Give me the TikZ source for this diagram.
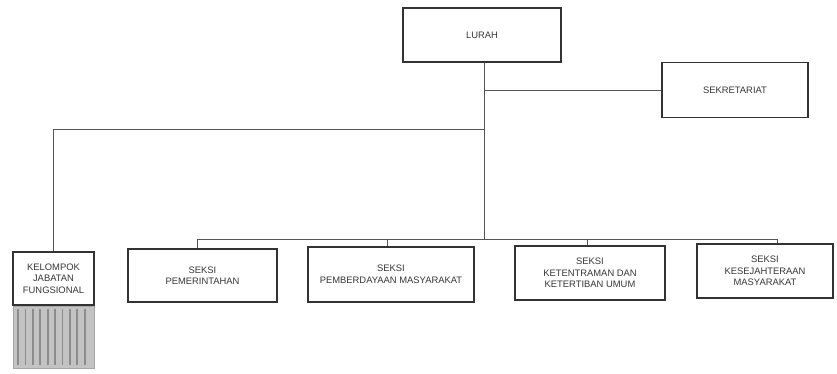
\documentclass[tikz,border=0pt]{standalone}
\usepackage{fontspec}
\setmainfont{Liberation Sans}
\usepackage{tikz}
\usetikzlibrary{positioning,calc}
\definecolor{inkcol}{RGB}{55,55,55}
\definecolor{linecol}{RGB}{85,85,85}
\definecolor{stripecol}{RGB}{195,195,195}
\tikzset{
  unit/.style={draw=black!80,line width=1.1pt,fill=white,inner sep=2pt,
               align=center,text=inkcol,font=\fontsize{9.4}{11.5}\selectfont},
  link/.style={draw=linecol,line width=.9pt},
}
\begin{document}
\begin{tikzpicture}[x=1pt,y=-1pt]
  \useasboundingbox (0,0) rectangle (837,374);
  \node[unit,minimum width=158pt,minimum height=54pt] (lurah) at (482,35) {LURAH};
  \node[unit,minimum width=146pt,minimum height=55pt] (sekr) at (735,90) {SEKRETARIAT};
  \node[unit,minimum width=81pt,minimum height=53pt] (kjf) at (53.5,278.5)
    {KELOMPOK\\JABATAN\\FUNGSIONAL};
  \node[draw=black!35,line width=.6pt,fill=stripecol,minimum width=81pt,
        minimum height=62pt,inner sep=0pt,below=0pt of kjf] (kjfbar) {};
  \foreach \k in {1,...,10}
    \draw[black!45,line width=1.8pt]
      ($(kjfbar.south west)+(7.4*\k-2,-3)$) -- ($(kjfbar.north west)+(7.4*\k-2,3)$);
  \node[unit,minimum width=149pt,minimum height=53pt] (pem) at (202.5,275.5)
    {SEKSI\\PEMERINTAHAN};
  \node[unit,minimum width=166pt,minimum height=55pt] (pmb) at (391,274.5)
    {SEKSI\\PEMBERDAYAAN MASYARAKAT};
  \node[unit,minimum width=150pt,minimum height=54pt] (ktr) at (590,273)
    {SEKSI\\KETENTRAMAN DAN\\KETERTIBAN UMUM};
  \node[unit,minimum width=136pt,minimum height=54pt] (ksj) at (765,271)
    {SEKSI\\KESEJAHTERAAN\\MASYARAKAT};
  \coordinate (bus) at (484,239);
  \coordinate (kjfjct) at (484,129);
  % garis komando
  \draw[link] ([xshift=2pt]lurah.south) -- ([xshift=2pt]lurah.south |- bus);
  \draw[link] ([xshift=2pt]lurah.south |- sekr.west) -- (sekr.west);
  \draw[link] (kjf.north) |- (kjfjct);
  \draw[link] ([xshift=-5pt]pem.north) |- ([xshift=12pt]ksj.north |- bus)
    -- ([xshift=12pt]ksj.north);
  \foreach \n/\dx in {pmb/-4,ktr/-3}
    \draw[link] ([xshift=\dx pt]\n.north) -- ([xshift=\dx pt]\n.north |- bus);
\end{tikzpicture}
\end{document}
